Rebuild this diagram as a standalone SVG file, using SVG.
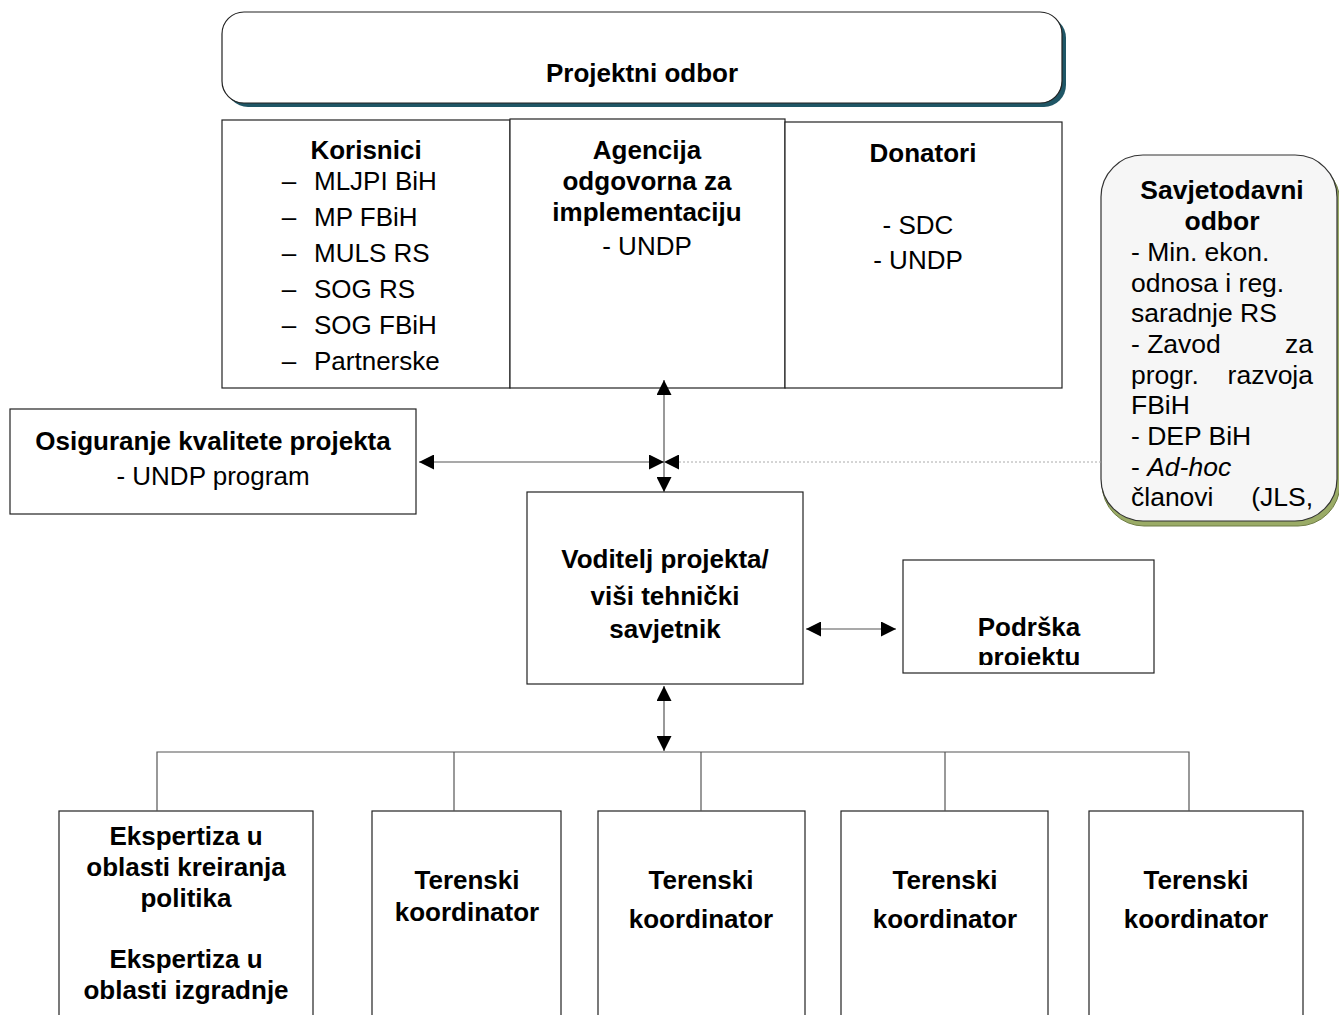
<svg xmlns="http://www.w3.org/2000/svg" width="1339" height="1015" viewBox="0 0 1339 1015">
<style>
text{font-family:"Liberation Sans",Arial,sans-serif;font-size:26px;fill:#000}
.b{font-weight:bold}
.c{text-anchor:middle}
.e{text-anchor:end}
.box{fill:#fff;stroke:#222;stroke-width:1.2}
.ln{fill:none;stroke:#555;stroke-width:1.2}
.s{font-size:26.5px}
</style>
<defs>
<marker id="ah" viewBox="0 0 14 14" refX="14" refY="7" markerWidth="15" markerHeight="15" markerUnits="userSpaceOnUse" orient="auto-start-reverse">
<path d="M0,0 L14,7 L0,14 Z" fill="#000"/>
</marker>
<clipPath id="cpPod"><rect x="903" y="560" width="251" height="105"/></clipPath>
<clipPath id="cpSav"><rect x="1101" y="155" width="238" height="362"/></clipPath>
</defs>

<g id="projektni-odbor">
<rect x="226" y="16" width="840" height="91" rx="22" fill="#1f5666"/>
<rect x="222" y="12" width="840" height="91" rx="22" fill="#fff" stroke="#222" stroke-width="1.2"/>
<text class="b c" x="642" y="82">Projektni odbor</text>
</g>

<g id="korisnici">
<rect class="box" x="222" y="120" width="288" height="268"/>
<text class="b c" x="366" y="159">Korisnici</text>
<text class="c" x="289" y="190">–</text><text x="314" y="190">MLJPI BiH</text>
<text class="c" x="289" y="226">–</text><text x="314" y="226">MP FBiH</text>
<text class="c" x="289" y="262">–</text><text x="314" y="262">MULS RS</text>
<text class="c" x="289" y="298">–</text><text x="314" y="298">SOG RS</text>
<text class="c" x="289" y="334">–</text><text x="314" y="334">SOG FBiH</text>
<text class="c" x="289" y="370">–</text><text x="314" y="370">Partnerske</text>
</g>

<g id="agencija">
<rect class="box" x="510" y="119" width="275" height="269"/>
<text class="b c" x="647" y="159">Agencija</text>
<text class="b c" x="647" y="190">odgovorna za</text>
<text class="b c" x="647" y="221">implementaciju</text>
<text class="c" x="647" y="255">- UNDP</text>
</g>

<g id="donatori">
<rect class="box" x="785" y="122" width="277" height="266"/>
<text class="b c" x="923" y="162">Donatori</text>
<text class="c" x="918" y="234">- SDC</text>
<text class="c" x="918" y="269">- UNDP</text>
</g>

<g id="savjetodavni-odbor">
<rect x="1102" y="160" width="238" height="366" rx="42" fill="#9aab66" stroke="#6f7d45" stroke-width="1"/>
<rect x="1101" y="155" width="236" height="366" rx="42" fill="#f6f6f6" stroke="#333" stroke-width="1.2"/>
<g clip-path="url(#cpSav)">
<text class="b c s" x="1222" y="199">Savjetodavni</text>
<text class="b c s" x="1222" y="230">odbor</text>
<text class="s" x="1131" y="261">- Min. ekon.</text>
<text class="s" x="1131" y="292">odnosa i reg.</text>
<text class="s" x="1131" y="322">saradnje RS</text>
<text class="s" x="1131" y="353">- Zavod</text><text class="s e" x="1313" y="353">za</text>
<text class="s" x="1131" y="384">progr.</text><text class="s e" x="1313" y="384">razvoja</text>
<text class="s" x="1131" y="414">FBiH</text>
<text class="s" x="1131" y="445">- DEP BiH</text>
<text class="s" x="1131" y="476">- <tspan font-style="italic">Ad-hoc</tspan></text>
<text class="s" x="1131" y="506">članovi</text><text class="s e" x="1313" y="506">(JLS,</text>
</g>
</g>

<g id="osiguranje-kvalitete">
<rect class="box" x="10" y="409" width="406" height="105"/>
<text class="b c" x="213" y="450">Osiguranje kvalitete projekta</text>
<text class="c" x="213" y="485">- UNDP program</text>
</g>

<g id="voditelj-projekta">
<rect class="box" x="527" y="492" width="276" height="192"/>
<text class="b c" x="665" y="568">Voditelj projekta/</text>
<text class="b c" x="665" y="605">viši tehnički</text>
<text class="b c" x="665" y="638">savjetnik</text>
</g>

<g id="podrska-projektu">
<rect class="box" x="903" y="560" width="251" height="113"/>
<g clip-path="url(#cpPod)">
<text class="b c" x="1029" y="636">Podrška</text>
<text class="b c" x="1029" y="666">projektu</text>
</g>
</g>

<g id="ekspertiza">
<rect class="box" x="59" y="811" width="254" height="220"/>
<text class="b c" x="186" y="845">Ekspertiza u</text>
<text class="b c" x="186" y="876">oblasti kreiranja</text>
<text class="b c" x="186" y="907">politika</text>
<text class="b c" x="186" y="968">Ekspertiza u</text>
<text class="b c" x="186" y="999">oblasti izgradnje</text>
</g>

<g id="terenski-1">
<rect class="box" x="372" y="811" width="189" height="220"/>
<text class="b c" x="467" y="889">Terenski</text>
<text class="b c" x="467" y="921">koordinator</text>
</g>
<g id="terenski-2">
<rect class="box" x="598" y="811" width="207" height="220"/>
<text class="b c" x="701" y="889">Terenski</text>
<text class="b c" x="701" y="928">koordinator</text>
</g>
<g id="terenski-3">
<rect class="box" x="841" y="811" width="207" height="220"/>
<text class="b c" x="945" y="889">Terenski</text>
<text class="b c" x="945" y="928">koordinator</text>
</g>
<g id="terenski-4">
<rect class="box" x="1089" y="811" width="214" height="220"/>
<text class="b c" x="1196" y="889">Terenski</text>
<text class="b c" x="1196" y="928">koordinator</text>
</g>

<g id="connectors">
<line class="ln" x1="664" y1="380" x2="664" y2="492" marker-start="url(#ah)" marker-end="url(#ah)"/>
<line class="ln" x1="419" y1="462" x2="664" y2="462" marker-start="url(#ah)" marker-end="url(#ah)"/>
<line x1="1101" y1="462" x2="664" y2="462" stroke="#aaa" stroke-width="1" stroke-dasharray="2,2" marker-end="url(#ah)"/>
<line class="ln" x1="806" y1="629" x2="896" y2="629" marker-start="url(#ah)" marker-end="url(#ah)"/>
<line class="ln" x1="664" y1="686" x2="664" y2="751" marker-start="url(#ah)" marker-end="url(#ah)"/>
<polyline class="ln" points="157,811 157,752 1189,752 1189,811"/>
<line class="ln" x1="454" y1="752" x2="454" y2="811"/>
<line class="ln" x1="701" y1="752" x2="701" y2="811"/>
<line class="ln" x1="945" y1="752" x2="945" y2="811"/>
</g>
</svg>
